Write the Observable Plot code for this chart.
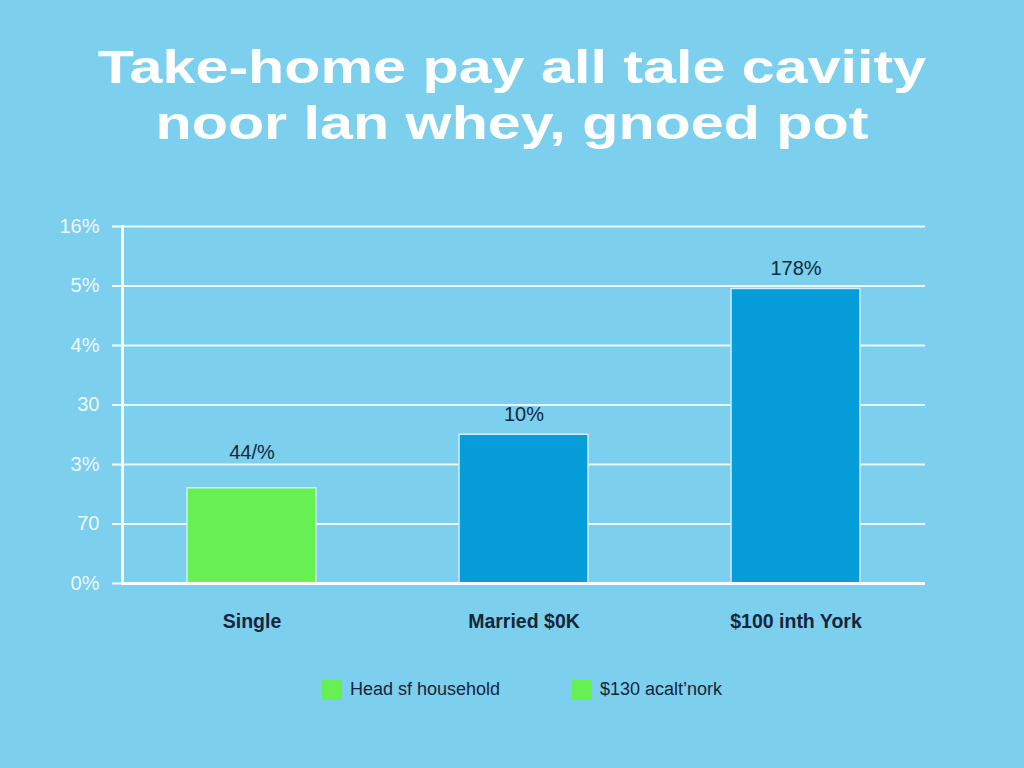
<!DOCTYPE html>
<html>
<head>
<meta charset="utf-8">
<script src="https://cdn.jsdelivr.net/npm/d3@7"></script>
<script src="https://cdn.jsdelivr.net/npm/@observablehq/plot@0.6"></script>
<style>
  html, body { margin: 0; padding: 0; width: 1024px; height: 768px; overflow: hidden; background: #7dcfee; font-family: "Liberation Sans", Arial, sans-serif; }
  #title { position: absolute; left: 0; top: 39px; width: 1024px; text-align: center; color: #fff; font-weight: bold; font-size: 47px; line-height: 56px; }
  #title div { transform: scaleX(1.26); transform-origin: 512px 0; white-space: nowrap; }
  #chart { position: absolute; left: 0; top: 200px; }
  #legend { position: absolute; top: 679px; left: 0; width: 1024px; height: 22px; }
  .item { position: absolute; top: 0; display: flex; align-items: center; font-size: 18px; color: #16263a; }
  .sw { width: 20px; height: 20px; margin-right: 8px; }
</style>
</head>
<body>
<div id="title"></div>
<div id="chart"></div>
<div id="legend"></div>
<script>
const titleLines = ["Take-home pay all tale caviity", "noor lan whey, gnoed pot"];
const categories = ["Single", "Married $0K", "$100 inth York"];
const values = [1.6, 2.5, 4.95];
const barLabels = ["44/%", "10%", "178%"];
const barColors = ["#66f052", "#069dda", "#069dda"];
const yTicks = [0, 1, 2, 3, 4, 5, 6];
const yTickLabels = ["0%", "70", "3%", "30", "4%", "5%", "16%"];
const legendLabels = ["Head sf household", "$130 acalt\u2019nork"];
const legendColors = ["#66f052", "#66f052"];

document.getElementById("title").innerHTML = titleLines.map(t => `<div>${t}</div>`).join("");

const data = categories.map((c, i) => ({cat: c, v: values[i], label: barLabels[i], color: barColors[i]}));

const chart = Plot.plot({
  width: 1024,
  height: 460,
  marginTop: 26,
  marginBottom: 77,
  marginLeft: 122,
  marginRight: 99,
  style: {background: "transparent", fontFamily: "Liberation Sans, Arial, sans-serif"},
  x: {domain: categories, paddingInner: 0.526, paddingOuter: 0.235},
  y: {domain: [0, 6]},
  marks: [
    Plot.ruleY(yTicks.filter(t => t > 0), {stroke: "#ffffff", strokeWidth: 2, strokeOpacity: 0.85}),
    Plot.barY(data, {x: "cat", y: "v", fill: "color", stroke: "#c9f0fb", strokeWidth: 1.5}),
    Plot.text(data.slice(0, 1), {x: "cat", y: "v", text: "label", dy: -36, fill: "#102a40", fontSize: 20}),
    Plot.text(data.slice(1), {x: "cat", y: "v", text: "label", dy: -20, fill: "#102a40", fontSize: 20}),
    Plot.ruleY([0], {stroke: "#ffffff", strokeWidth: 3}),
    Plot.frame({anchor: "left", stroke: "#ffffff", strokeWidth: 3}),
    Plot.axisY({ticks: yTicks, tickFormat: (d) => yTickLabels[yTicks.indexOf(d)], tickSize: 10, tickPadding: 13, stroke: "#ffffff", strokeWidth: 2, fill: "#eef8fc", fontSize: 20, label: null}),
    Plot.axisX({tickSize: 0, tickPadding: 31, fill: "#16263a", fontSize: 19.5, fontWeight: "bold", label: null})
  ]
});
document.getElementById("chart").appendChild(chart);

const legend = document.getElementById("legend");
const legendX = [322, 572];
legendLabels.forEach((l, i) => {
  const el = document.createElement("div");
  el.className = "item";
  el.style.left = legendX[i] + "px";
  el.innerHTML = `<span class="sw" style="background:${legendColors[i]}"></span><span>${l}</span>`;
  legend.appendChild(el);
});
</script>
</body>
</html>
